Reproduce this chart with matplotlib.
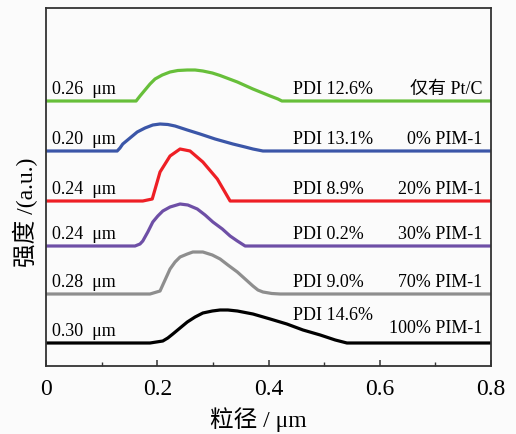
import matplotlib
matplotlib.use("Agg")
import matplotlib.pyplot as plt
from matplotlib.ticker import MultipleLocator

plt.rcParams['font.family'] = ['Liberation Serif', 'Noto Sans CJK SC']

# ---- data (particle size in um, relative intensity) ----
names = ["仅有 Pt/C", "0% PIM-1", "20% PIM-1", "30% PIM-1", "70% PIM-1", "100% PIM-1"]
mean_size = ["0.26  μm", "0.20  μm", "0.24  μm", "0.24  μm", "0.28  μm", "0.30  μm"]
pdi = ["PDI 12.6%", "PDI 13.1%", "PDI 8.9%", "PDI 0.2%", "PDI 9.0%", "PDI 14.6%"]
colors = ["#67bf3a", "#3b56a8", "#ee1f25", "#6e4fa6", "#8e8e8e", "#000000"]
offsets = [265, 215, 165, 120, 72, 23]

x_green = [0, 0.162, 0.169, 0.178, 0.187, 0.196, 0.209, 0.223, 0.237, 0.254, 0.268, 0.282,
           0.299, 0.313, 0.344, 0.372, 0.403, 0.417, 0.424, 0.8]
y_green = [0, 0, 5, 11, 17, 22, 26, 29, 30.5, 31, 31, 30, 28, 25.5, 19, 12, 5, 2, 0, 0]

x_blue = [0, 0.128, 0.133, 0.138, 0.151, 0.164, 0.178, 0.192, 0.205, 0.219, 0.232, 0.254,
          0.277, 0.304, 0.336, 0.358, 0.372, 0.390, 0.8]
y_blue = [0, 0, 3, 7, 13, 19, 23, 26, 27, 26.5, 25, 21, 17, 12, 7, 4, 2, 0, 0]

x_red = [0, 0.174, 0.191, 0.205, 0.223, 0.241, 0.259, 0.282, 0.308, 0.331, 0.8]
y_red = [0, 0, 2, 29, 45, 52, 50, 39, 22, 0, 0]

x_purple = [0, 0.160, 0.169, 0.174, 0.183, 0.192, 0.201, 0.210, 0.223, 0.241, 0.255, 0.272,
            0.286, 0.300, 0.317, 0.331, 0.344, 0.358, 0.8]
y_purple = [0, 0, 2, 5, 14, 24, 30, 35, 39, 42, 41, 37, 31, 24, 17, 10, 5, 0, 0]

x_gray = [0, 0.187, 0.205, 0.214, 0.223, 0.232, 0.241, 0.254, 0.264, 0.282, 0.299, 0.313,
          0.327, 0.344, 0.358, 0.372, 0.381, 0.390, 0.406, 0.421, 0.8]
y_gray = [0, 0, 3, 14, 25, 32, 37, 40, 42, 42, 39, 35, 29, 22, 15, 8, 4, 2, 0.5, 0, 0]

x_black = [0, 0.187, 0.210, 0.219, 0.228, 0.241, 0.254, 0.268, 0.282, 0.299, 0.313, 0.327,
           0.344, 0.372, 0.403, 0.433, 0.462, 0.493, 0.520, 0.541, 0.8]
y_black = [0, 0, 2, 5, 9, 15, 21, 26, 30, 32, 33, 33, 32, 29, 24, 19, 13, 8, 3, 0, 0]

xs = [x_green, x_blue, x_red, x_purple, x_gray, x_black]
ys = [y_green, y_blue, y_red, y_purple, y_gray, y_black]

bg = "#fbfbfb"
fig = plt.figure(figsize=(5.16, 4.35), dpi=100, facecolor=bg)
ax = fig.add_axes([46/516, 1 - 367/435, 445/516, 358/435], facecolor=bg)

for x, y, c, off in zip(xs, ys, colors, offsets):
    ax.plot(x, [v + off for v in y], color=c, lw=2.3, solid_joinstyle='round', solid_capstyle='butt')

for i, off in enumerate(offsets):
    ax.text(0.011, off + 8, mean_size[i], fontsize=13, ha='left', va='baseline')
    pdi_y = off + (24 if i == 5 else 8)
    ax.text(0.444, pdi_y, pdi[i], fontsize=13, ha='left', va='baseline')
    ax.text(0.784, off + (11 if i == 5 else 8), names[i], fontsize=13, ha='right', va='baseline')

ax.set_xlim(0, 0.8)
ax.set_ylim(0, 358)
ax.xaxis.set_minor_locator(MultipleLocator(0.1))
ax.set_xticks([0, 0.2, 0.4, 0.6, 0.8])
ax.set_xticklabels(["0", "0.2", "0.4", "0.6", "0.8"], fontsize=17)
ax.tick_params(axis='x', which='major', direction='in', length=4, width=1.1, pad=9, color='#333333')
ax.tick_params(axis='x', which='minor', direction='in', length=3, width=1.0, color='#333333')
ax.set_yticks([])
for s in ax.spines.values():
    s.set_linewidth(1.3)
    s.set_color('#333333')

fig.text(258/516, 1 - 420/435, "粒径 / μm", fontsize=17, ha='center', va='center')
fig.text(25/516, 1 - 212/435, "强度 /(a.u.)", fontsize=17, ha='center', va='center', rotation=90)

fig.savefig("out.png", dpi=100, facecolor=bg)
